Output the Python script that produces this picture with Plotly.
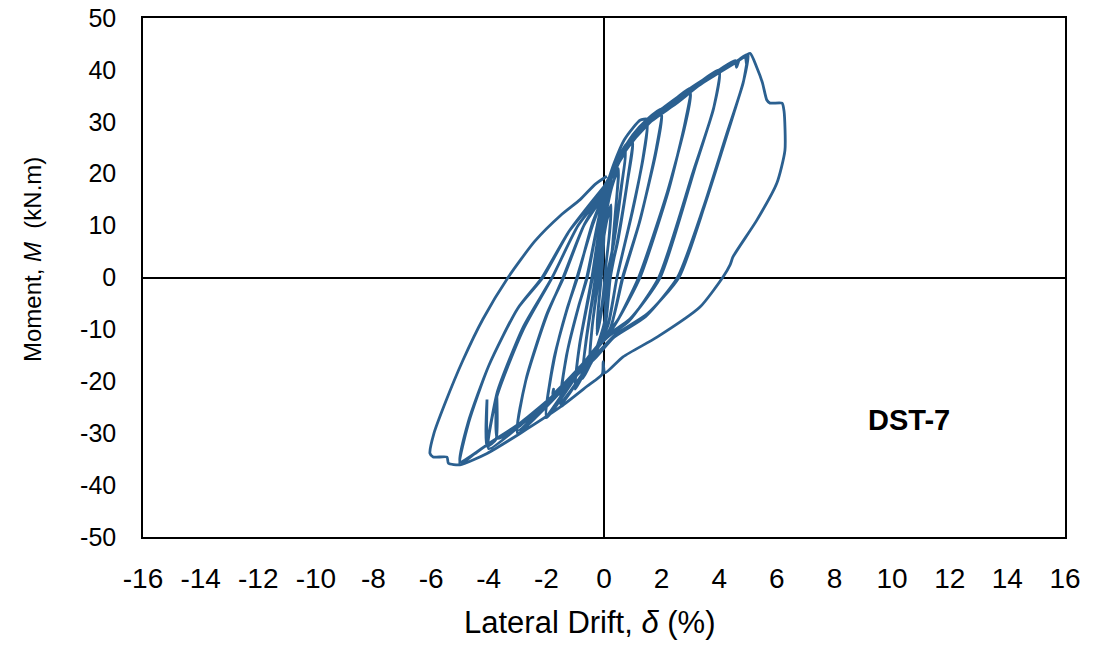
import plotly.graph_objects as go

# Hysteresis cycles (drift %, moment kN.m)
c025a_x = [0, 0.1, 0.25, 0.2, 0.08, -0.02, -0.12, -0.25, -0.2, -0.08, 0]
c025a_y = [8, 11, 13.5, 9, 3, -3, -7, -10, -6, 1, 8]
c025b_x = [0, 0.12, 0.25, 0.18, 0.06, -0.03, -0.13, -0.25, -0.18, -0.06, 0]
c025b_y = [9, 12, 14, 8, 2, -4, -8, -11, -5, 2, 9]
c05a_x = [0, 0.25, 0.5, 0.42, 0.22, 0.05, -0.2, -0.5, -0.42, -0.2, -0.05, 0]
c05a_y = [10, 17, 21, 14, 1, -8, -13, -17, -10, 0, 8, 12]
c05b_x = [0, 0.25, 0.5, 0.4, 0.2, 0.03, -0.2, -0.5, -0.4, -0.18, -0.04, 0]
c05b_y = [12, 17.5, 20.5, 13, 0, -9, -13.5, -16.5, -9, 0, 9, 13]
c075a_x = [0, 0.25, 0.5, 0.75, 0.62, 0.35, 0.12, 0.02, -0.25, -0.5, -0.75, -0.62, -0.3, -0.1, 0]
c075a_y = [13, 19, 22.5, 24.5, 18, 7, 0, -8.5, -13.5, -17, -19.5, -12, 0, 9.5, 14]
c075b_x = [0, 0.25, 0.5, 0.75, 0.6, 0.33, 0.1, 0.01, -0.25, -0.5, -0.75, -0.6, -0.28, -0.08, 0]
c075b_y = [14, 19.5, 22, 24, 17.5, 6.5, 0, -9, -13.5, -17, -19, -11.5, 0, 10, 14.5]
c10a_x = [0, 0.3, 0.65, 1.0, 0.85, 0.5, 0.22, 0.05, -0.3, -0.65, -1.0, -0.85, -0.42, -0.15, 0]
c10a_y = [14, 20, 24.5, 27, 20, 8, 0, -9, -14, -18, -21.5, -13, 0, 10, 15]
c10b_x = [0, 0.3, 0.65, 1.0, 0.83, 0.48, 0.2, 0.04, -0.3, -0.65, -1.0, -0.83, -0.4, -0.13, 0]
c10b_y = [15, 20.5, 24, 26, 19, 7, 0, -9.5, -14, -18, -21, -12.5, 0, 10.5, 15.5]
c15a_x = [0, 0.35, 0.7, 1.0, 1.25, 1.5, 1.38, 1.0, 0.45, 0.15, -0.3, -0.8, -1.5, -1.3, -0.9, -0.6, -0.2, 0]
c15a_y = [16, 22, 26.5, 28.8, 30.3, 30.5, 24, 13, 0, -9, -14, -19, -24.5, -15, -6, 0, 11, 16]
c15b_x = [0, 0.35, 0.75, 1.1, 1.5, 1.36, 0.95, 0.45, 0.12, -0.3, -0.8, -1.5, -1.28, -0.88, -0.58, -0.2, 0]
c15b_y = [16, 21.5, 25.5, 27.5, 29.5, 23, 12, 0, -9.5, -14, -19, -24, -14.5, -5.5, 0, 11, 16]
c20a_x = [0, 0.5, 1.0, 1.5, 2.0, 1.82, 1.25, 0.66, 0.2, -0.5, -1.2, -2.0, -1.75, -1.3, -0.94, -0.4, 0]
c20a_y = [16, 23, 27.5, 30.5, 32.5, 25, 11, 0, -10, -15, -21, -27, -16, -6.5, 0, 10, 16]
c20b_x = [0, 0.5, 1.0, 1.5, 2.0, 1.8, 1.22, 0.64, 0.18, -0.5, -1.2, -2.0, -1.72, -1.28, -0.92, -0.4, 0]
c20b_y = [16, 22.5, 27, 29.5, 31.5, 24, 10.5, 0, -10.5, -15, -20.5, -26.5, -15.5, -6, 0, 10.5, 16]
c30a_x = [0, 0.6, 1.2, 2.0, 2.5, 3.0, 2.82, 2.25, 1.25, 0.5, 0.1, -0.6, -1.5, -2.2, -3.0, -2.72, -2.0, -1.42, -0.7, 0]
c30a_y = [16, 23, 28.5, 32.5, 34.5, 36.5, 30, 17, 0, -8, -11, -16, -22, -26, -30, -20, -7.5, 0, 10, 16]
c30b_x = [0, 0.6, 1.2, 2.0, 2.5, 3.0, 2.8, 2.2, 1.2, 0.45, 0.08, -0.6, -1.5, -2.2, -3.0, -2.7, -1.98, -1.4, -0.7, 0]
c30b_y = [16.5, 23, 28, 32, 34, 35.5, 29, 16.5, 0, -8.5, -11.5, -16, -21.5, -25.5, -29.5, -19.5, -7, 0, 10, 16.5]
c40a_x = [0, 0.7, 1.5, 2.5, 3.3, 4.0, 3.82, 3.15, 1.95, 0.9, 0.15, -0.8, -1.8, -2.8, -4.0, -3.72, -2.8, -1.8, -0.9, 0]
c40a_y = [16.5, 24.5, 30, 34, 37.5, 40, 33, 21, 0, -8, -11, -17, -23, -28, -33, -23, -10, 0, 10, 16.5]
c40b_x = [0, 0.7, 1.5, 2.5, 3.3, 4.0, 3.8, 3.1, 1.9, 0.85, 0.12, -0.8, -1.78, -1.75, -1.8, -2.8, -3.7,
          -3.72, -3.75, -4.06, -4.06, -4.06, -3.7, -2.8, -1.8, -0.9, 0]
c40b_y = [16.5, 24, 29.5, 33.5, 37, 39.5, 32.5, 20.5, 0, -8.5, -11.5, -17, -22.5, -21.5, -23, -28, -31,
          -22.5, -31.2, -32.5, -23.5, -31.5, -22, -9.5, 0, 10, 16.5]
c50a_x = [0, 0.8, 1.8, 3.0, 4.0, 4.55, 4.6, 4.7, 5.0, 4.85, 4.3, 3.5, 2.6, 1.5, 0.4, -0.3, -1.5, -2.9,
          -4.0, -5.0, -4.72, -4.0, -3.0, -2.15, -1.2, 0]
c50a_y = [17, 25, 31.5, 36.5, 40, 41.8, 40.5, 42, 43, 38, 28, 14, 0, -7, -11, -15, -21.5, -28,
          -32, -35.5, -28, -17, -6, 0, 9, 17]
c50b_x = [0, 0.8, 1.8, 3.0, 4.0, 4.6, 4.9, 4.95, 5.0, 4.83, 4.25, 3.45, 2.55, 1.45, 0.35, -0.3, -1.5,
          -2.9, -4.0, -4.5, -5.0, -4.7, -4.0, -3.0, -2.12, -1.2, 0]
c50b_y = [17, 25, 31, 36, 39.5, 41.5, 42.5, 41, 42.8, 37.5, 27.5, 13.5, 0, -7.5, -11.5, -15.5, -21.5,
          -28, -32, -34, -36, -28, -17, -6, 0, 9, 17.5]
final_x = [0, 0.8, 1.8, 3.0, 4.0, 4.7, 5.07, 5.3, 5.5, 5.65, 5.76, 6.18, 6.25, 6.28, 6.0, 5.3, 4.48,
           4.38, 4.13, 3.33, 1.84, 0.66, 0.03, -0.03, -0.06, -0.6, -1.5, -2.9, -4.06, -5.0, -5.4,
           -5.45, -5.93, -6.04, -5.9, -5.5, -4.9, -4.2, -3.33, -2.4, -1.5, -0.83, -0.3, 0.1]
final_y = [17.5, 25, 31, 36, 39.5, 42, 43.2, 40.5, 37.5, 34.2, 33.6, 33.6, 32, 24.5, 18.2, 11, 4,
           2.5, 0.1, -5.7, -11.5, -15.3, -18.4, -16.2, -18.6, -21, -24.9, -30, -33.9, -36.1, -35.8,
           -34.6, -34.6, -33.9, -30, -24, -16, -8, 0, 7, 12, 15, 18, 19.5]

cycles_x = [c025a_x, c025b_x, c05a_x, c05b_x, c075a_x, c075b_x, c10a_x, c10b_x, c15a_x, c15b_x,
            c20a_x, c20b_x, c30a_x, c30b_x, c40a_x, c40b_x, c50a_x, c50b_x, final_x]
cycles_y = [c025a_y, c025b_y, c05a_y, c05b_y, c075a_y, c075b_y, c10a_y, c10b_y, c15a_y, c15b_y,
            c20a_y, c20b_y, c30a_y, c30b_y, c40a_y, c40b_y, c50a_y, c50b_y, final_y]

drift = [v for c in cycles_x for v in c]
moment = [v for c in cycles_y for v in c]

x_ticks = list(range(-16, 17, 2))
y_ticks = list(range(-50, 51, 10))

FONT = "Liberation Sans, Arial, sans-serif"
OFF = 8  # page body margin
W, H = 1098 - OFF, 648 - OFF
L, T = 143 - OFF, 18 - OFF
pw, ph = 922, 519
R, B = W - L - pw, H - T - ph

fig = go.Figure()
fig.add_trace(go.Scatter(x=drift, y=moment, mode="lines",
                         line=dict(color="#2B6090", width=2.8, shape="spline", smoothing=0.6),
                         showlegend=False, hoverinfo="skip"))

axis_common = dict(showgrid=False, zeroline=True, zerolinecolor="black", zerolinewidth=2,
                   showline=True, linecolor="black", linewidth=1.5, mirror=True, ticks="",
                   ticklabeloverflow="allow")
fig.update_xaxes(range=[-16, 16], tickvals=x_ticks, ticktext=[str(v) for v in x_ticks],
                 tickfont=dict(family=FONT, size=28, color="black"),
                 ticklabelstandoff=16, **axis_common)
fig.update_yaxes(range=[-50, 50], tickvals=y_ticks, ticktext=[str(v) for v in y_ticks],
                 tickfont=dict(family=FONT, size=25, color="black"),
                 ticklabelstandoff=20, **axis_common)

fig.add_annotation(x=10.6, y=-27.5, xref="x", yref="y", text="<b>DST-7</b>", showarrow=False,
                   xanchor="center", yanchor="middle",
                   font=dict(family=FONT, size=29, color="black"))
fig.add_annotation(x=(590 - 143) / pw, y=(537 - 622) / ph, xref="paper", yref="paper",
                   text="Lateral Drift, <i>δ</i> (%)", showarrow=False,
                   xanchor="center", yanchor="middle",
                   font=dict(family=FONT, size=31, color="black"))
fig.add_annotation(x=(32 - 143) / pw, y=(537 - 260) / ph, xref="paper", yref="paper",
                   text="Moment, <i>M</i>  (kN.m)", showarrow=False, textangle=-90,
                   xanchor="center", yanchor="middle",
                   font=dict(family=FONT, size=24, color="black"))

fig.update_layout(width=W, height=H, margin=dict(l=L, r=R, t=T, b=B, autoexpand=False),
                  plot_bgcolor="white", paper_bgcolor="white")
fig.write_html("out.html")
